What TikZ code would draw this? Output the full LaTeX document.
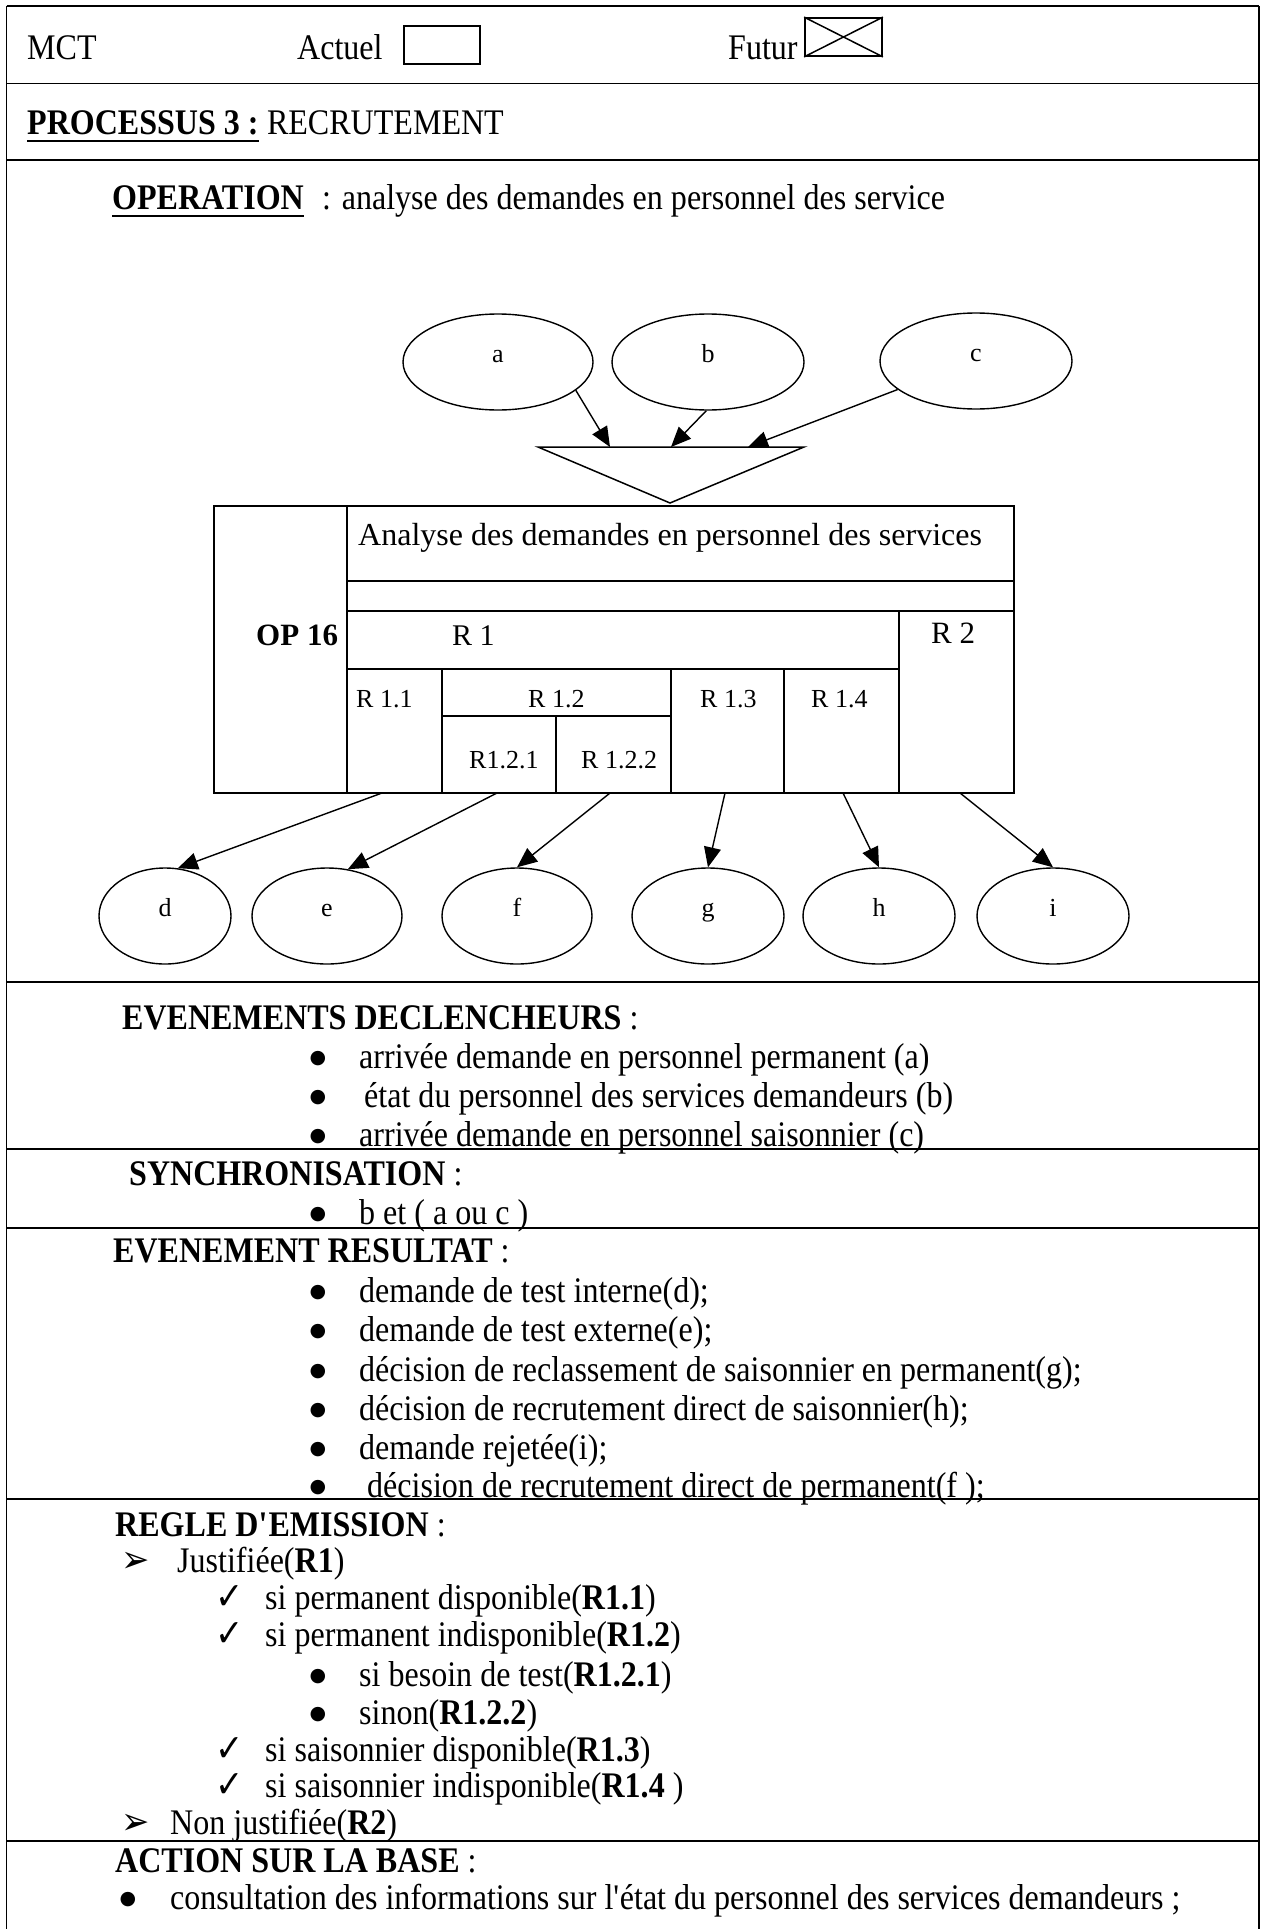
\documentclass[tikz,border=0pt]{standalone}
\usepackage{fontspec}
\setmainfont{Liberation Serif}
% text of the form, set a little taller than wide
\newfontfamily\formfont[FakeStretch=0.89]{Liberation Serif}
\newfontfamily\symfont[FakeStretch=0.89]{DejaVu Sans}
\newfontfamily\dotfont{DejaVu Sans}
\usetikzlibrary{shapes.geometric,arrows.meta}

\begin{document}
\begin{tikzpicture}[x=1pt,y=-1pt,
  frame/.style={line width=1.8pt},
  dline/.style={line width=1.5pt},
  txt/.style={inner sep=0pt, anchor=base west, font=\formfont\fontsize{36}{36}\selectfont},
  bul/.style={inner sep=0pt, anchor=base, yshift=5pt, text height=14pt, text depth=0pt,
    font=\dotfont\fontsize{19}{19}\selectfont},
  sym/.style={inner sep=0pt, anchor=base west, text height=24pt, text depth=0pt,
    font=\symfont\fontsize{38}{38}\selectfont},
  dtxt/.style={inner sep=0pt, anchor=base west, font=\fontsize{32}{32}\selectfont},
  rtxt/.style={inner sep=0pt, anchor=base west, font=\fontsize{26}{26}\selectfont},
  evt/.style={ellipse, draw, line width=1.4pt, minimum width=#1, minimum height=96pt,
    inner sep=0pt, text height=0pt, text depth=0pt, font=\fontsize{26}{26}\selectfont},
  arr/.style={line width=1.4pt, -{Triangle[length=20pt,width=17pt]}},
  uline/.style={line width=2pt}
]
\useasboundingbox (0,0) rectangle (1261,1929);

% ---------- frame of the form ----------
\draw[frame] (6.5,6) -- (6.5,1929);
\draw[frame] (1259,6) -- (1259,1929);
\foreach \yy in {6,83.5,160,982,1149,1228,1499,1841}
  \draw[frame] (6.5,\yy) -- (1259,\yy);

% ---------- header ----------
\node[txt] (mct) at (27,60) {MCT};
\node[txt] (actuel) at (297,60) {Actuel};
\node[draw, frame, minimum width=76pt, minimum height=38pt, inner sep=0pt] (actbox) at (442,45) {};
\node[txt] (futur) at (728,60) {Futur};
\node[draw, frame, minimum width=77pt, minimum height=38pt, inner sep=0pt] (futbox) at (843.5,37) {};
\draw[line width=1.5pt] (futbox.north west) -- (futbox.south east)
                        (futbox.south west) -- (futbox.north east);

\node[txt] (proc) at (27,135) {\bfseries PROCESSUS 3 :};
\draw[uline] ([yshift=-6pt]proc.base west) -- ([yshift=-6pt]proc.base east);
\node[txt] (recr) at ([xshift=8pt]proc.base east) {RECRUTEMENT};

\node[txt] (oper) at (112,210) {\bfseries OPERATION};
\draw[uline] ([yshift=-6pt]oper.base west) -- ([yshift=-6pt]oper.base east);
\node[txt] (operdesc) at (322,210) {: analyse des demandes en personnel des service};

% ---------- triggering events and synchronisation ----------
\node[evt=190pt] (a) at (498,362) {a};
\node[evt=192pt] (b) at (708,362) {b};
\node[evt=192pt] (c) at (976,361) {c};

\coordinate (tl) at (538,447);
\coordinate (tr) at (804,447);
\coordinate (tapex) at (670,503);
\draw[dline] (tl) -- (tr) -- (tapex) -- cycle;
\coordinate (ta) at (610,447);
\coordinate (tb) at (671,447);
\coordinate (tc) at (748,447);
\draw[arr] (a.-20) -- (ta);
\draw[arr] (b.-92) -- (tb);
\draw[arr] (c.200) -- (tc);

% ---------- operation box ----------
\node[draw, dline, minimum width=800pt, minimum height=287pt, inner sep=0pt, anchor=north west] (op) at (213,505) {};
\draw[dline] (347,505) -- (347,792);
\draw[dline] (347,581) -- (1013,581);
\draw[dline] (347,611) -- (1013,611);
\draw[dline] (899,611) -- (899,792);
\draw[dline] (347,669) -- (899,669);
\draw[dline] (442,669) -- (442,792);
\draw[dline] (442,716) -- (671,716);
\draw[dline] (556,716) -- (556,792);
\draw[dline] (671,669) -- (671,792);
\draw[dline] (784,669) -- (784,792);

\node[dtxt] (optitle) at (358,545) {Analyse des demandes en personnel des services};
\node[dtxt, font=\bfseries\fontsize{31}{31}\selectfont] (opnum) at (256,645) {OP 16};
\node[dtxt, font=\fontsize{30}{30}\selectfont] (r1) at (452,645) {R 1};
\node[dtxt, font=\fontsize{31}{31}\selectfont] (r2) at (931,643) {R 2};
\node[rtxt] (r11) at (356,707) {R 1.1};
\node[rtxt] (r12) at (528,707) {R 1.2};
\node[rtxt] (r13) at (700,707) {R 1.3};
\node[rtxt] (r14) at (811,707) {R 1.4};
\node[rtxt] (r121) at (469,768) {R1.2.1};
\node[rtxt] (r122) at (581,768) {R 1.2.2};

% ---------- result events ----------
\node[evt=132pt] (d) at (165,916) {d};
\node[evt=150pt] (e) at (327,916) {e};
\node[evt=150pt] (f) at (517,916) {f};
\node[evt=152pt] (g) at (708,916) {g};
\node[evt=152pt] (h) at (879,916) {h};
\node[evt=152pt] (i) at (1053,916) {i};

\coordinate (sd) at (382,793);
\coordinate (se) at (497,793);
\coordinate (sf) at (610,793);
\coordinate (sg) at (725,793);
\coordinate (sh) at (843,793);
\coordinate (si) at (960,793);
\draw[arr] (sd) -- (d.75);
\draw[arr] (se) -- (e.66);
\draw[arr] (sf) -- (f.north);
\draw[arr] (sg) -- (g.north);
\draw[arr] (sh) -- (h.north);
\draw[arr] (si) -- (i.north);

% ---------- evenements declencheurs ----------
\node[txt] (evdtitle) at (122,1029) {{\bfseries EVENEMENTS DECLENCHEURS} :};
\node[bul] (evdb1) at (318,1068) {●};
\node[txt] (evd1) at (359,1068) {arrivée demande en personnel permanent (a)};
\node[bul] (evdb2) at (318,1107) {●};
\node[txt] (evd2) at (364,1107) {état du personnel des services demandeurs (b)};
\node[bul] (evdb3) at (318,1146) {●};
\node[txt] (evd3) at (359,1146) {arrivée demande en personnel saisonnier (c)};

% ---------- synchronisation ----------
\node[txt] (syntitle) at (129,1185) {{\bfseries SYNCHRONISATION} :};
\node[bul] (synb1) at (318,1224) {●};
\node[txt] (syn1) at (359,1224) {b et ( a ou c )};

% ---------- evenement resultat ----------
\node[txt] (restitle) at (113,1262) {{\bfseries EVENEMENT RESULTAT} :};
\node[bul] (resb1) at (318,1302) {●};
\node[txt] (res1) at (359,1302) {demande de test interne(d);};
\node[bul] (resb2) at (318,1341) {●};
\node[txt] (res2) at (359,1341) {demande de test externe(e);};
\node[bul] (resb3) at (318,1381) {●};
\node[txt] (res3) at (359,1381) {décision de reclassement de saisonnier en permanent(g);};
\node[bul] (resb4) at (318,1420) {●};
\node[txt] (res4) at (359,1420) {décision de recrutement direct de saisonnier(h);};
\node[bul] (resb5) at (318,1459) {●};
\node[txt] (res5) at (359,1459) {demande rejetée(i);};
\node[bul] (resb6) at (318,1497) {●};
\node[txt] (res6) at (367,1497) {décision de recrutement direct de permanent(f );};

% ---------- regle d'emission ----------
\node[txt] (regtitle) at (115,1536) {{\bfseries REGLE D\textquotesingle EMISSION} :};
\node[sym] (rega) at (121,1572) {➢};
\node[txt] (reg1) at (177,1572) {Justifiée(\textbf{R1})};
\node[sym] (regc1) at (215,1609) {✓};
\node[txt] (reg11) at (265,1609) {si permanent disponible(\textbf{R1.1})};
\node[sym] (regc2) at (215,1646) {✓};
\node[txt] (reg12) at (265,1646) {si permanent indisponible(\textbf{R1.2})};
\node[bul] (regb1) at (318,1686) {●};
\node[txt] (reg121) at (359,1686) {si besoin de test(\textbf{R1.2.1})};
\node[bul] (regb2) at (318,1724) {●};
\node[txt] (reg122) at (359,1724) {sinon(\textbf{R1.2.2})};
\node[sym] (regc3) at (215,1761) {✓};
\node[txt] (reg13) at (265,1761) {si saisonnier disponible(\textbf{R1.3})};
\node[sym] (regc4) at (215,1797) {✓};
\node[txt] (reg14) at (265,1797) {si saisonnier indisponible(\textbf{R1.4} )};
\node[sym] (regb) at (121,1834) {➢};
\node[txt] (reg2) at (170,1834) {Non justifiée(\textbf{R2})};

% ---------- action sur la base ----------
\node[txt] (acttitle) at (115,1872) {{\bfseries ACTION SUR LA BASE} :};
\node[bul] (actb1) at (128,1909) {●};
\node[txt] (act1) at (170,1909) {consultation des informations sur l\textquotesingle état du personnel des services demandeurs ;};
\end{tikzpicture}
\end{document}
